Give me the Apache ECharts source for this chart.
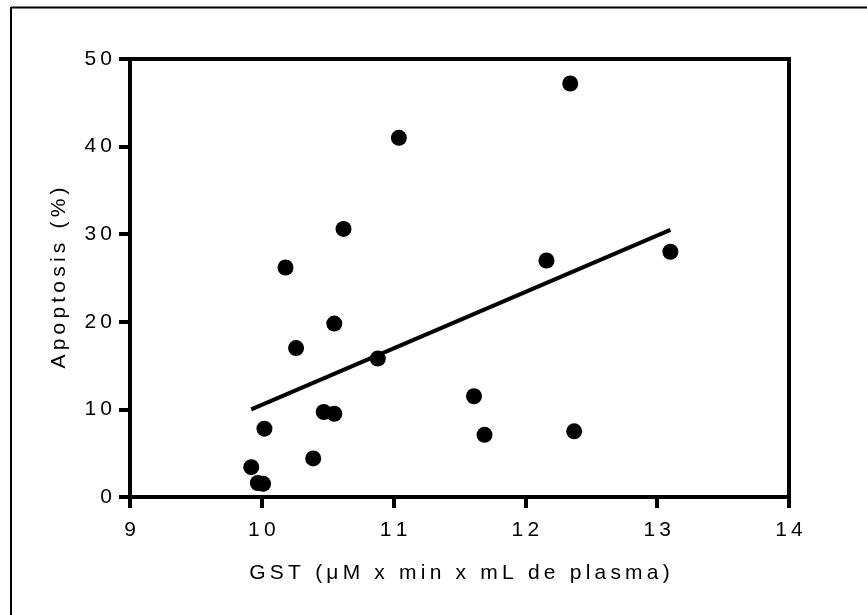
<!DOCTYPE html>
<html>
<head>
<meta charset="utf-8">
<script src="https://cdn.jsdelivr.net/npm/echarts@6/dist/echarts.min.js"></script>
<style>
    html, body { margin: 0; padding: 0; background: #fff; }
    #chart { width: 867px; height: 615px; }
</style>
</head>
<body>
<div id="chart"></div>
<script>
// GST (x) vs Apoptosis (y)
const gstValues = [9.92, 9.97, 10.01, 10.02, 10.18, 10.26, 10.39, 10.47, 10.55, 10.55, 10.62, 10.88, 11.04, 11.61, 11.69, 12.16, 12.34, 12.37, 13.10];
const apoptosisValues = [3.4, 1.6, 1.5, 7.8, 26.2, 17.0, 4.4, 9.7, 9.5, 19.8, 30.6, 15.8, 41.0, 11.5, 7.1, 27.0, 47.2, 7.5, 28.0];

// regression line ends
const fitX = [9.92, 13.10];
const fitY = [10.0, 30.5];

const xTicks = [9, 10, 11, 12, 13, 14];
const yTicks = [0, 10, 20, 30, 40, 50];

// the original text is letter-spaced, use thin spaces
function spaced(s) {
    return String(s).split('').join('\u2009');
}

const font = '"Liberation Sans", Arial, sans-serif';
let chart = echarts.init(document.getElementById('chart'));

chart.setOption({
    animation: false,
    grid: {
        left: 130,
        right: 78,
        top: 59,
        bottom: 118,
        show: true,
        borderColor: '#000',
        borderWidth: 4
    },
    graphic: [
        { type: 'line', shape: { x1: 11, y1: 7.5, x2: 867, y2: 7.5 }, style: { stroke: '#000', lineWidth: 2 } },
        { type: 'line', shape: { x1: 11, y1: 7, x2: 11, y2: 615 }, style: { stroke: '#000', lineWidth: 2 } }
    ],
    xAxis: {
        type: 'value',
        min: xTicks[0],
        max: xTicks[xTicks.length - 1],
        interval: 1,
        name: spaced('GST (μM x min x mL de plasma)'),
        nameLocation: 'middle',
        nameGap: 66,
        nameTextStyle: { color: '#000', fontSize: 21, fontFamily: font },
        axisLine: { show: true, lineStyle: { color: '#000', width: 4 } },
        axisTick: { show: true, inside: false, length: 11, lineStyle: { color: '#000', width: 4 } },
        axisLabel: {
            margin: 23,
            color: '#000',
            fontSize: 21,
            fontFamily: font,
            formatter: v => spaced(v)
        },
        splitLine: { show: false }
    },
    yAxis: {
        type: 'value',
        min: yTicks[0],
        max: yTicks[yTicks.length - 1],
        interval: 10,
        name: spaced('Apoptosis (%)'),
        nameLocation: 'middle',
        nameRotate: 90,
        nameGap: 60,
        nameTextStyle: { color: '#000', fontSize: 21, fontFamily: font },
        axisLine: { show: true, lineStyle: { color: '#000', width: 4 } },
        axisTick: { show: true, inside: false, length: 11, lineStyle: { color: '#000', width: 4 } },
        axisLabel: {
            margin: 18,
            color: '#000',
            fontSize: 21,
            fontFamily: font,
            formatter: v => spaced(v)
        },
        splitLine: { show: false }
    },
    series: [
        {
            name: 'fit',
            type: 'line',
            data: fitX.map((x, i) => [x, fitY[i]]),
            showSymbol: false,
            symbol: 'none',
            lineStyle: { color: '#000', width: 4 },
            z: 2
        },
        {
            name: 'points',
            type: 'scatter',
            data: gstValues.map((x, i) => [x, apoptosisValues[i]]),
            symbol: 'circle',
            symbolSize: 16,
            itemStyle: { color: '#000', opacity: 1 },
            z: 3
        }
    ]
});
</script>
</body>
</html>
